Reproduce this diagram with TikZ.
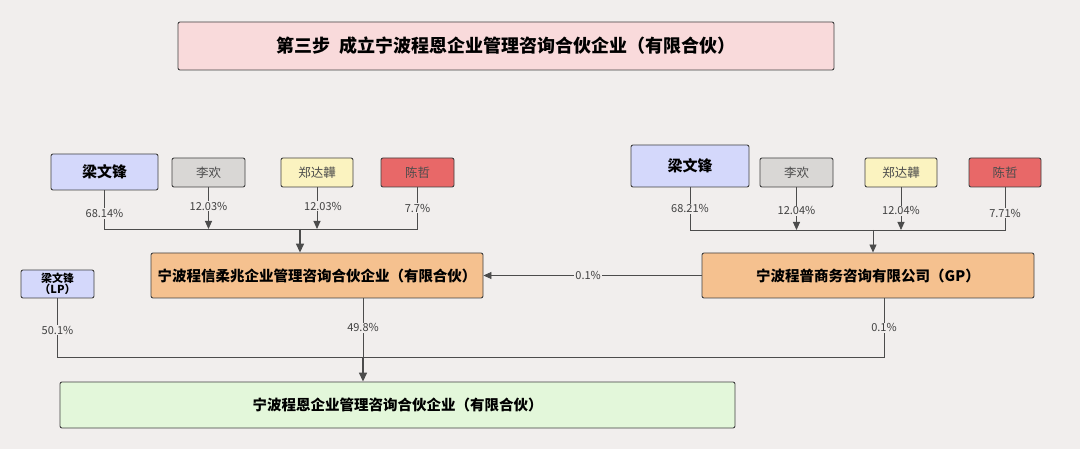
\documentclass[tikz,border=0pt]{standalone}
\usepackage{fontspec}
\setmainfont{Noto Sans CJK SC}
\usetikzlibrary{arrows.meta}
\definecolor{bgc}{HTML}{F1EEED}
\definecolor{pinkc}{HTML}{F9DADB}
\definecolor{bluec}{HTML}{D4D8FB}
\definecolor{grayc}{HTML}{D9D7D5}
\definecolor{yelc}{HTML}{FBF3C0}
\definecolor{redc}{HTML}{E86868}
\definecolor{orgc}{HTML}{F5C18F}
\definecolor{grnc}{HTML}{E3F7DA}
\begin{document}
\begin{tikzpicture}[x=1pt,y=-1pt,
    box/.style={draw=black!75,line width=.9pt,rounded corners=2pt,inner sep=0pt},
    pct/.style={fill=bgc,inner sep=1pt,font=\fontsize{11}{12}\selectfont,text=black!75},
    ln/.style={draw=black!70,line width=.9pt},
    arr/.style={ln,-{Triangle[length=8pt,width=7pt]}},
    big/.style={ln,line width=1.6pt,-{Triangle[length=9pt,width=8pt]}}]
  \fill[bgc] (0,0) rectangle (1080,449);
  % title
  \node[box,fill=pinkc,minimum width=656pt,minimum height=48pt,
    font=\bfseries\fontsize{18}{20}\selectfont] (title) at (506,46) {第三步\ \ 成立宁波程恩企业管理咨询合伙企业（有限合伙）};
  % left holders
  \node[box,fill=bluec,minimum width=107pt,minimum height=36pt,font=\bfseries\fontsize{15}{17}\selectfont] (la) at (104.5,172) {梁文锋};
  \node[box,fill=grayc,minimum width=73pt,minimum height=29pt,font=\fontsize{12.5}{14}\selectfont,text=black!70] (lb) at (208.5,172.5) {李欢};
  \node[box,fill=yelc,minimum width=72pt,minimum height=29pt,font=\fontsize{12.5}{14}\selectfont,text=black!70] (lc) at (317,172.5) {郑达韡};
  \node[box,fill=redc,minimum width=73pt,minimum height=29pt,font=\fontsize{12.5}{14}\selectfont,text=black!70] (ld) at (417.5,172.5) {陈哲};
  % right holders
  \node[box,fill=bluec,minimum width=118pt,minimum height=42pt,font=\bfseries\fontsize{15}{17}\selectfont] (ra) at (690,166) {梁文锋};
  \node[box,fill=grayc,minimum width=73pt,minimum height=29pt,font=\fontsize{12.5}{14}\selectfont,text=black!70] (rb) at (796.5,172.5) {李欢};
  \node[box,fill=yelc,minimum width=72pt,minimum height=29pt,font=\fontsize{12.5}{14}\selectfont,text=black!70] (rc) at (901,172.5) {郑达韡};
  \node[box,fill=redc,minimum width=72pt,minimum height=29pt,font=\fontsize{12.5}{14}\selectfont,text=black!70] (rd) at (1005,172.5) {陈哲};
  % middle row
  \node[box,fill=orgc,minimum width=332pt,minimum height=45pt,font=\bfseries\fontsize{14.5}{17}\selectfont] (xr) at (317,275.5) {宁波程信柔兆企业管理咨询合伙企业（有限合伙）};
  \node[box,fill=orgc,minimum width=332pt,minimum height=45pt,font=\bfseries\fontsize{14.5}{17}\selectfont] (gp) at (868,275.5) {宁波程普商务咨询有限公司（GP）};
  \node[box,fill=bluec,minimum width=73pt,minimum height=28pt,align=center,
    font=\bfseries\fontsize{11}{11.5}\selectfont] (lp) at (57.5,284) {梁文锋\\（LP）};
  % bottom
  \node[box,fill=grnc,minimum width=675pt,minimum height=46pt,font=\bfseries\fontsize{14.5}{17}\selectfont] (ce) at (397.5,405) {宁波程恩企业管理咨询合伙企业（有限合伙）};
  % left bus
  \coordinate (lj) at (300,229);
  \draw[ln] (la.south) |- (lj) node[pct,pos=.3] {68.14\%};
  \draw[ln] (ld.south) |- (lj) node[pct,pos=.25] {7.7\%};
  \draw[arr] (lb.south) -- (lb.south|-lj) node[pct,pos=.45] {12.03\%};
  \draw[arr] (lc.south) -- (lc.south|-lj) node[pct,pos=.45,xshift=6pt] {12.03\%};
  \draw[big] (lj) -- (lj|-xr.north);
  % right bus
  \coordinate (rj) at (873,230);
  \draw[ln] (ra.south) |- (rj) node[pct,pos=.25] {68.21\%};
  \draw[ln] (rd.south) |- (rj) node[pct,pos=.3] {7.71\%};
  \draw[arr] (rb.south) -- (rb.south|-rj) node[pct,pos=.55] {12.04\%};
  \draw[arr] (rc.south) -- (rc.south|-rj) node[pct,pos=.55] {12.04\%};
  \draw[arr] (rj) -- (rj|-gp.north);
  % gp to xr
  \draw[arr] (gp.west) -- (xr.east) node[pct,pos=.52] {0.1\%};
  % to bottom
  \coordinate (bj) at (363,357);
  \draw[ln] (lp.south) |- (bj) node[pct,pos=.27] {50.1\%};
  \draw[ln] (gp.south-|884,0) |- (bj) node[pct,pos=.25] {0.1\%};
  \draw[ln] (xr.south-|363,0) -- (bj) node[pct,midway] {49.8\%};
  \draw[big] (bj) -- (bj|-ce.north);
\end{tikzpicture}
\end{document}
